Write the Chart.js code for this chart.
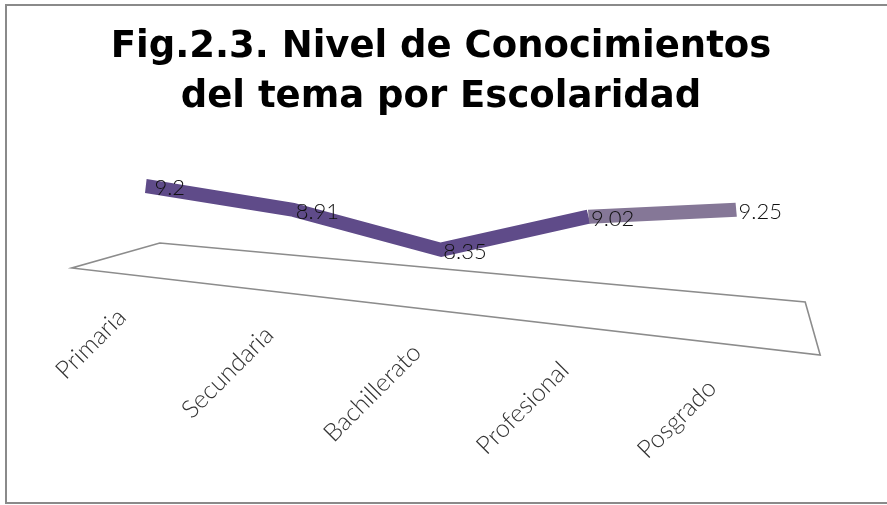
<!DOCTYPE html>
<html lang="es">
<head>
<meta charset="UTF-8">
<title>Nivel de Conocimientos por Escolaridad</title>
<script src="https://cdn.jsdelivr.net/npm/chart.js"></script>
<style>
  html, body { margin: 0; padding: 0; background: #fff; }
  body { width: 887px; height: 505px; position: relative; overflow: hidden; }
  #marco { position: absolute; left: 5px; top: 4px; width: 900px; height: 500px; border: 2px solid #8a8a8a; box-sizing: border-box; }
  #contenedor { position: absolute; left: 0; top: 0; width: 887px; height: 505px; }
</style>
</head>
<body>
<div id="marco"></div>
<div id="contenedor"><canvas id="nivelChart"></canvas></div>

<script>
const niveles = ['Primaria', 'Secundaria', 'Bachillerato', 'Profesional', 'Posgrado'];
const calificaciones = [9.2, 8.91, 8.35, 9.02, 9.25];
const titulo = ['Fig.2.3. Nivel de Conocimientos', 'del tema por Escolaridad'];

const moradoOscuro = '#5f4b89';
const moradoClaro = '#857797';
const inclinacion = 0.045;   // fake 3d tilt of the ribbon

// draws the floor, tilts the line and writes labels like the excel 3d chart
const perspectiva = {
    id: 'perspectiva',
    beforeDatasetsDraw(chart) {
        const ctx = chart.ctx;
        const xs = chart.scales.x;
        const x0 = xs.getPixelForValue(0);
        const x1 = xs.getPixelForValue(niveles.length - 1);
        const b = chart.chartArea.bottom;

        ctx.save();
        ctx.beginPath();
        ctx.moveTo(x0 + 14, b - 100);
        ctx.lineTo(x1 + 69, b - 41);
        ctx.lineTo(x1 + 84, b + 12);
        ctx.lineTo(x0 - 74, b - 75);
        ctx.closePath();
        ctx.fillStyle = '#ffffff';
        ctx.fill();
        ctx.lineWidth = 1.6;
        ctx.strokeStyle = '#8c8c8c';
        ctx.stroke();
        ctx.restore();

        ctx.save();
        ctx.transform(1, inclinacion, 0, 1, 0, -inclinacion * x1);
    },
    afterDatasetsDraw(chart) {
        const ctx = chart.ctx;
        ctx.restore();

        const xs = chart.scales.x;
        const x0 = xs.getPixelForValue(0);
        const x1 = xs.getPixelForValue(niveles.length - 1);
        const b = chart.chartArea.bottom;
        const meta = chart.getDatasetMeta(0);

        ctx.save();
        ctx.font = '300 22px Lato, "DejaVu Sans", sans-serif';
        ctx.fillStyle = '#111';
        ctx.textAlign = 'center';
        ctx.textBaseline = 'middle';
        meta.data.forEach((p, i) => {
            const y = p.y + inclinacion * (p.x - x1);
            ctx.fillText(String(calificaciones[i]), p.x + 24, y + 2);
        });
        ctx.restore();

        ctx.save();
        ctx.font = '300 25px Lato, "DejaVu Sans", sans-serif';
        ctx.fillStyle = '#333';
        ctx.textAlign = 'right';
        ctx.textBaseline = 'middle';
        niveles.forEach((n, i) => {
            const x = xs.getPixelForValue(i);
            ctx.save();
            ctx.translate(x - 24, b - 30 + 0.12 * (x - x0));
            ctx.rotate(-45 * Math.PI / 180);
            ctx.fillText(n, 0, 0);
            ctx.restore();
        });
        ctx.restore();
    }
};

new Chart(document.getElementById('nivelChart').getContext('2d'), {
    type: 'line',
    data: {
        labels: niveles,
        datasets: [{
            data: calificaciones,
            borderColor: moradoOscuro,
            borderWidth: 14,
            borderCapStyle: 'butt',
            borderJoinStyle: 'miter',
            pointRadius: 0,
            tension: 0,
            fill: false,
            segment: {
                borderColor: c => c.p0DataIndex >= 3 ? moradoClaro : moradoOscuro
            }
        }]
    },
    options: {
        responsive: true,
        maintainAspectRatio: false,
        animation: false,
        layout: { padding: { left: 72, right: 77, top: 0, bottom: 162 } },
        plugins: {
            legend: { display: false },
            tooltip: { enabled: false },
            title: {
                display: true,
                text: titulo,
                color: '#000',
                font: { family: '"DejaVu Sans", sans-serif', size: 37, weight: 'bold', lineHeight: 1.35 },
                padding: { top: 22, bottom: 67 }
            }
        },
        scales: {
            x: { display: false, offset: true },
            y: { display: false, min: 7, max: 9.6 }
        }
    },
    plugins: [perspectiva]
});
</script>
</body>
</html>
